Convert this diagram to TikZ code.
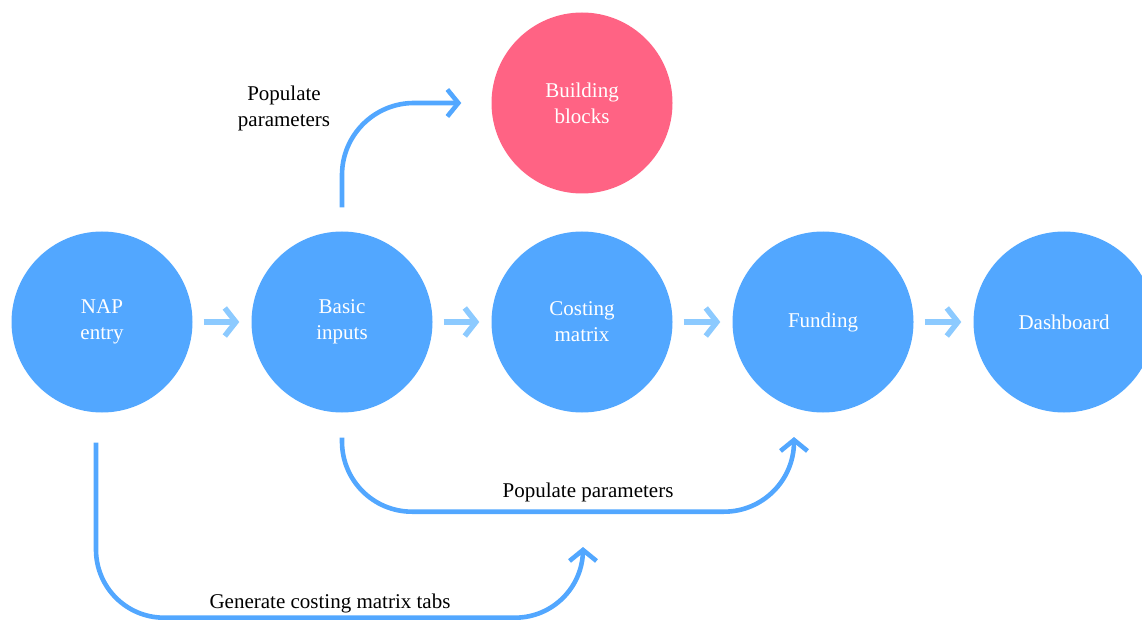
\documentclass[tikz,border=0pt]{standalone}
\usepackage{fontspec}
\setmainfont{Liberation Serif}
\usetikzlibrary{arrows.meta,calc}
\definecolor{cblue}{RGB}{82,167,255}
\definecolor{cpink}{RGB}{255,99,132}
\definecolor{clight}{RGB}{140,202,255}
\begin{document}
\begin{tikzpicture}[x=1pt,y=-1pt,
  bubble/.style={circle,minimum size=181pt,inner sep=0pt,fill=cblue,text=white,align=center,font=\fontsize{21}{26}\selectfont},
  pinkbubble/.style={bubble,fill=cpink},
  shortarrow/.style={draw=clight,line width=5.5pt,-{Straight Barb[length=11pt,width=28pt]},shorten <=11pt,shorten >=12pt},
  conn/.style={draw=cblue,line width=4.6pt,-{Straight Barb[length=11pt,width=27pt]}},
  lbl/.style={font=\fontsize{21}{26}\selectfont,align=center,text=black}]
\useasboundingbox (0,0) rectangle (1142,620);
\node[bubble] (nap) at (102,322) {NAP\\entry};
\node[bubble] (basic) at (342,322) {Basic\\inputs};
\node[bubble] (cost) at (582,322) {Costing\\matrix};
\node[bubble] (fund) at (823,322) {Funding};
\node[bubble] (dash) at (1064,322) {Dashboard};
\node[pinkbubble] (bb) at (582,103) {Building\\blocks};
\draw[shortarrow] (nap) -- (basic);
\draw[shortarrow] (basic) -- (cost);
\draw[shortarrow] (cost) -- (fund);
\draw[shortarrow] (fund) -- (dash);
\coordinate (midend) at (794,437);
\coordinate (botend) at (583,547);
\draw[conn,rounded corners=72pt,shorten <=24pt,shorten >=30pt] (basic.north) |- (bb.west);
\draw[conn,rounded corners=70pt,shorten <=25pt] (basic.south) -- ++(0,99) -| (midend);
\draw[conn,rounded corners=68pt,shorten <=30pt] ([xshift=-6pt]nap.south) -- ++(0,205) -| (botend);
\node[lbl] (l1) at (284,108) {Populate\\parameters};
\node[lbl] (l2) at (588,492) {Populate parameters};
\node[lbl] (l3) at (330,603) {Generate costing matrix tabs};
\end{tikzpicture}
\end{document}
